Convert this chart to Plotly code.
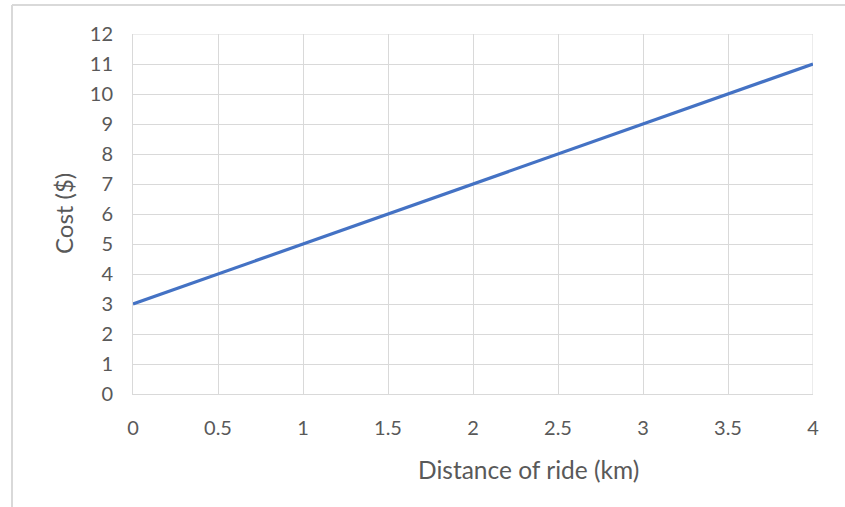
import plotly.graph_objects as go

distance_km = [0, 0.5, 1, 1.5, 2, 2.5, 3, 3.5, 4]
cost_dollars = [3, 4, 5, 6, 7, 8, 9, 10, 11]
x_title = "Distance of ride (km)"
y_title = "Cost ($)"

FONT = "Lato, Open Sans, sans-serif"
TXT = "#595959"
GRID = "#D9D9D9"

fig = go.Figure()
fig.add_trace(go.Scatter(x=distance_km, y=cost_dollars, mode="lines",
                         line=dict(color="#4472C4", width=3.2), showlegend=False,
                         hoverinfo="skip"))

L, R, T, B = 133, 32, 34, 113
W, H = 845, 507
pw, ph = W - L - R, H - T - B

def px(xpix):
    return (xpix - L) / pw

def py(ypix):
    return (H - B - ypix) / ph

fig.update_layout(
    width=W, height=H,
    margin=dict(l=L, r=R, t=T, b=B, pad=0),
    paper_bgcolor="white", plot_bgcolor="white",
    font=dict(family=FONT, color=TXT, size=20),
    xaxis=dict(range=[0, 4], dtick=0.5, showgrid=True, gridcolor=GRID, gridwidth=1,
               zeroline=False, showline=True, linecolor=GRID, linewidth=1, mirror=False,
               ticks="outside", ticklen=16, tickcolor="rgba(0,0,0,0)",
               tickfont=dict(size=20, color=TXT, family=FONT), fixedrange=True),
    yaxis=dict(range=[0, 12], dtick=1, showgrid=True, gridcolor=GRID, gridwidth=1,
               zeroline=False, showline=True, linecolor=GRID, linewidth=1,
               ticks="outside", ticklen=15, tickcolor="rgba(0,0,0,0)",
               tickfont=dict(size=20, color=TXT, family=FONT), fixedrange=True),
    shapes=[
        dict(type="line", xref="paper", yref="paper", x0=px(12), x1=px(900), y0=py(5), y1=py(5),
             line=dict(color=GRID, width=2)),
        dict(type="line", xref="paper", yref="paper", x0=px(12), x1=px(12), y0=py(5), y1=py(560),
             line=dict(color=GRID, width=2)),
    ],
    annotations=[
        dict(text=x_title, xref="paper", yref="paper", x=px(528), y=py(469),
             showarrow=False, xanchor="center", yanchor="middle",
             font=dict(size=24.5, color=TXT, family=FONT)),
        dict(text=y_title, xref="paper", yref="paper", x=px(63), y=py(214),
             showarrow=False, xanchor="center", yanchor="middle", textangle=-90,
             font=dict(size=24, color=TXT, family=FONT)),
    ],
)
fig.add_shape(type="line", xref="x", yref="y", x0=4, x1=4, y0=0, y1=12, line=dict(color=GRID, width=1), layer="below")
fig.add_shape(type="line", xref="x", yref="y", x0=0, x1=4, y0=12, y1=12, line=dict(color=GRID, width=1), layer="below")

fig.write_html("out.html", config={"displayModeBar": False, "staticPlot": True},
               post_script="document.body.style.margin='0';document.body.style.overflow='hidden';")
